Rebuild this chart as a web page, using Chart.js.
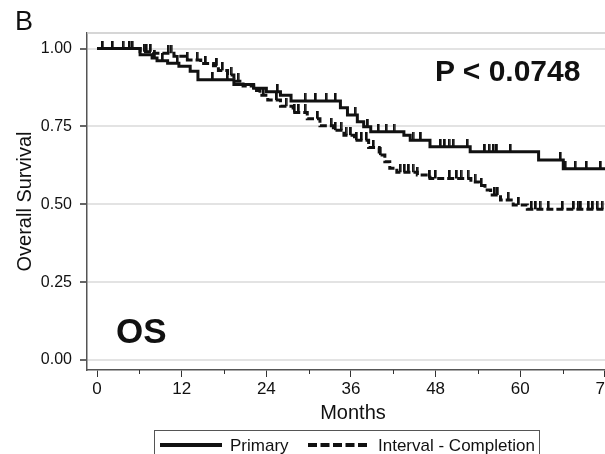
<!DOCTYPE html>
<html>
<head>
<meta charset="utf-8">
<script src="https://cdn.jsdelivr.net/npm/chart.js@4.4.1/dist/chart.umd.min.js"></script>
<style>
  html, body { margin: 0; padding: 0; background: #fff; overflow: hidden; }
  #wrap { position: relative; width: 605px; height: 454px; overflow: hidden; font-family: "Liberation Sans", Arial, Helvetica, sans-serif; color: #111; }
  #c { position: absolute; left: 0; top: 0; }
  .ann { position: absolute; line-height: 1; white-space: nowrap; }
  #legend { position: absolute; left: 154px; top: 430px; width: 386px; height: 40px; border: 1.5px solid #555; box-sizing: border-box; }
  .lg-item { position: absolute; top: 4px; height: 20px; display: flex; align-items: center; font-size: 17px; line-height: 1; }
  .lg-item svg { margin-right: 8px; }
</style>
</head>
<body>
<div id="wrap">
  <canvas id="c" width="640" height="454"></canvas>
  <div class="ann" id="panel" style="left:15px; top:8px; font-size:27px;"></div>
  <div class="ann" id="pval" style="left:435px; top:56px; font-size:30px; font-weight:bold;"></div>
  <div class="ann" id="oslab" style="left:116px; top:313px; font-size:35px; font-weight:bold;"></div>
  <div id="legend"></div>
</div>
<script>
// ---------- data ----------
const panelLabel = 'B';
const pValueLabel = 'P < 0.0748';
const endpointLabel = 'OS';
const seriesNames = ['Primary', 'Interval - Completion'];

// Kaplan-Meier steps: time (months) at which survival drops to the given value
const primaryTimes = [0, 6.1, 7.8, 8.5, 10.0, 11.6, 13.2, 14.3, 19.4, 22.2, 24.0, 26.0, 27.5, 34.5, 35.5, 36.9, 37.8, 38.8, 43.5, 44.4, 47.2, 52.9, 62.6, 66.1, 73.8];
const primarySurv  = [1.0, 0.98, 0.97, 0.961, 0.953, 0.943, 0.927, 0.90, 0.885, 0.873, 0.861, 0.85, 0.832, 0.81, 0.787, 0.765, 0.749, 0.733, 0.722, 0.706, 0.685, 0.669, 0.642, 0.614, 0.614];
const primaryCensor = [2.2, 4.6, 8.2, 9.3, 11.4, 16.4, 18.5, 25.6, 29.5, 31.0, 32.5, 33.8, 36.6, 38.4, 39.9, 41.0, 42.1, 44.8, 45.9, 48.7, 49.3, 49.9, 50.5, 52.5, 55.0, 55.6, 56.2, 56.7, 58.6, 65.7, 66.4, 67.8, 69.4, 71.4];

const intervalTimes = [0, 6.1, 8.0, 10.9, 12.8, 14.7, 16.5, 17.2, 18.5, 19.4, 20.7, 22.2, 23.1, 24.2, 26.0, 27.8, 29.8, 31.6, 33.5, 35.0, 36.5, 38.5, 40.0, 40.8, 41.5, 42.5, 45.4, 47.2, 53.0, 54.2, 55.0, 55.8, 57.2, 59.0, 61.0, 73.8];
const intervalSurv  = [1.0, 0.99, 0.985, 0.975, 0.963, 0.952, 0.945, 0.93, 0.915, 0.895, 0.88, 0.865, 0.85, 0.835, 0.815, 0.795, 0.775, 0.752, 0.738, 0.722, 0.706, 0.682, 0.658, 0.637, 0.616, 0.603, 0.594, 0.583, 0.572, 0.56, 0.546, 0.53, 0.514, 0.498, 0.484, 0.484];
const intervalCensor = [0.8, 3.7, 5.0, 6.7, 7.0, 7.6, 10.1, 10.5, 12.8, 14.2, 15.4, 17.0, 17.8, 19.0, 20.0, 23.6, 25.5, 26.8, 28.0, 28.6, 29.5, 31.3, 33.2, 33.8, 34.6, 35.3, 36.0, 36.8, 37.5, 38.2, 39.2, 40.2, 43.0, 43.6, 44.2, 44.8, 45.4, 47.2, 48.0, 50.0, 51.0, 51.6, 52.6, 53.6, 54.5, 56.4, 56.8, 58.3, 59.8, 61.6, 62.2, 62.8, 64.0, 66.0, 67.6, 68.2, 68.6, 69.7, 70.3, 70.9, 71.6];

const xTickValues = [0, 12, 24, 36, 48, 60, 72];
const xMinorTickValues = [6, 18, 30, 42, 54, 66];
const yTickValues = [0, 0.25, 0.5, 0.75, 1.0];
const xTitle = 'Months';
const yTitle = 'Overall Survival';

// ---------- helpers ----------
function survAt(times, surv, t) {
  let v = surv[0];
  for (let i = 0; i < times.length; i++) { if (times[i] <= t) v = surv[i]; }
  return v;
}
function toPts(times, vals) { return times.map((t, i) => ({ x: t, y: vals[i] })); }
function censorPts(ct, times, surv) { return ct.map(t => ({ x: t, y: survAt(times, surv, t) })); }

// censor tick glyph: short vertical stroke rising above the curve
const tickImg = document.createElement('canvas');
tickImg.width = 3; tickImg.height = 16;
(function(){ const g = tickImg.getContext('2d'); g.fillStyle = '#111'; g.fillRect(0, 0, 2.6, 8); })();

// annotations
document.getElementById('panel').textContent = panelLabel;
document.getElementById('pval').textContent = pValueLabel;
document.getElementById('oslab').textContent = endpointLabel;

// legend
(function(){
  const lg = document.getElementById('legend');
  const specs = [{ left: 5, dash: '' }, { left: 153, dash: '9,3.5' }];
  seriesNames.forEach((name, i) => {
    const d = document.createElement('div');
    d.className = 'lg-item';
    d.style.left = specs[i].left + 'px';
    d.innerHTML = '<svg width="62" height="6"><line x1="0" y1="3" x2="62" y2="3" stroke="#111" stroke-width="4"' +
      (specs[i].dash ? ' stroke-dasharray="' + specs[i].dash + '"' : '') + '/></svg>';
    const s = document.createElement('span');
    s.textContent = name;
    d.appendChild(s);
    lg.appendChild(d);
  });
})();

const FONT = '"Liberation Sans", Arial, Helvetica, sans-serif';

const framePlugin = {
  id: 'frame',
  afterDraw(chart) {
    const { ctx, chartArea, scales } = chart;
    ctx.save();
    ctx.strokeStyle = '#c8c8c8';
    ctx.lineWidth = 1.5;
    ctx.beginPath();
    ctx.moveTo(chartArea.left, chartArea.top);
    ctx.lineTo(chartArea.right, chartArea.top);
    ctx.stroke();
    ctx.strokeStyle = '#333';
    ctx.lineWidth = 1;
    xMinorTickValues.forEach(v => {
      const px = Math.round(scales.x.getPixelForValue(v)) + 0.5;
      ctx.beginPath();
      ctx.moveTo(px, chartArea.bottom);
      ctx.lineTo(px, chartArea.bottom + 4);
      ctx.stroke();
    });
    ctx.restore();
  }
};

new Chart(document.getElementById('c'), {
  type: 'line',
  data: {
    datasets: [
      { label: seriesNames[0], data: toPts(primaryTimes, primarySurv), stepped: true, borderColor: '#111', borderWidth: 3, pointRadius: 0, fill: false },
      { label: seriesNames[1], data: toPts(intervalTimes, intervalSurv), stepped: true, borderColor: '#111', borderWidth: 3, borderDash: [7, 3], pointRadius: 0, fill: false },
      { type: 'scatter', label: 'c1', data: censorPts(primaryCensor, primaryTimes, primarySurv), pointStyle: tickImg, showLine: false },
      { type: 'scatter', label: 'c2', data: censorPts(intervalCensor, intervalTimes, intervalSurv), pointStyle: tickImg, showLine: false }
    ]
  },
  options: {
    responsive: false,
    animation: false,
    events: [],
    layout: { padding: { top: 33, right: 21, left: 0, bottom: 0 } },
    plugins: { legend: { display: false }, tooltip: { enabled: false } },
    scales: {
      x: {
        type: 'linear',
        min: -1.43, max: 74,
        afterBuildTicks(scale) { scale.ticks = xTickValues.map(v => ({ value: v })); },
        afterFit(scale) { scale.height = 84; },
        ticks: { color: '#111', font: { family: FONT, size: 17 }, padding: 2, maxRotation: 0, autoSkip: false, callback: v => String(v) },
        grid: { drawOnChartArea: false, drawTicks: true, tickLength: 7, tickColor: '#333', tickWidth: 1 },
        border: { display: true, color: '#555', width: 1.5 },
        title: { display: true, text: xTitle, color: '#111', font: { family: FONT, size: 20 }, padding: { top: 0, bottom: 29 } }
      },
      y: {
        type: 'linear',
        min: -0.032, max: 1.05,
        afterBuildTicks(scale) { scale.ticks = yTickValues.map(v => ({ value: v })); },
        afterFit(scale) { scale.width = 87; },
        ticks: { color: '#111', font: { family: FONT, size: 16 }, padding: 8, callback: v => Number(v).toFixed(2) },
        grid: { drawOnChartArea: true, color: '#e3e3e3', lineWidth: 2, drawTicks: true, tickLength: 7, tickColor: '#333', tickWidth: 1.5 },
        border: { display: true, color: '#555', width: 1.5 },
        title: { display: true, text: yTitle, color: '#111', font: { family: FONT, size: 20 }, padding: { top: 13, bottom: 0 } }
      }
    }
  },
  plugins: [framePlugin]
});
</script>
</body>
</html>
